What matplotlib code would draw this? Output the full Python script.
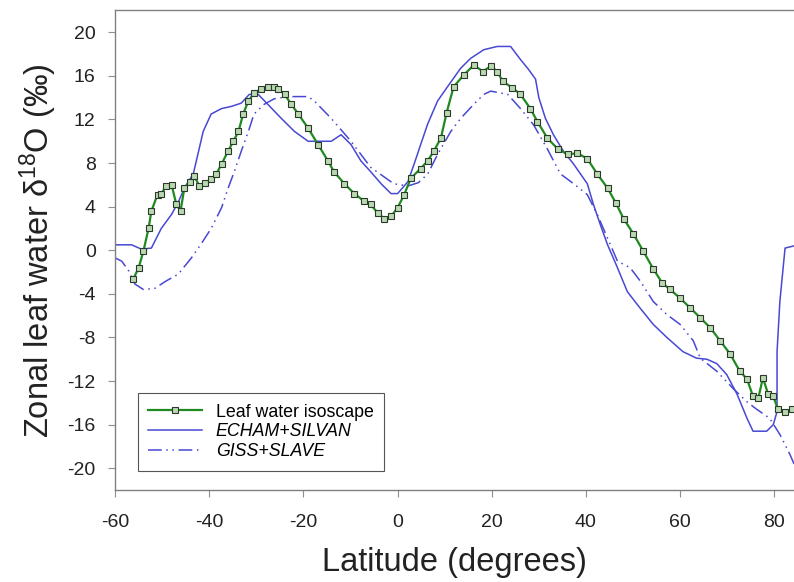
import matplotlib
matplotlib.use("Agg")
from matplotlib import pyplot as plt

plt.rcParams['font.family'] = ['Liberation Sans', 'DejaVu Sans']
plt.rcParams['mathtext.fontset'] = 'custom'
plt.rcParams['mathtext.rm'] = 'Liberation Sans'
plt.rcParams['axes.unicode_minus'] = False

# leaf water isoscape (green, square markers)
leaf_lat = [-56.1, -55.0, -54.0, -52.9, -52.3, -51.0, -50.2, -49.1, -48.0, -47.0,
            -46.1, -45.3, -44.2, -43.2, -42.1, -41.0, -39.6, -38.5, -37.4, -36.0,
            -34.9, -33.8, -32.8, -31.7, -30.5, -29.0, -27.5, -26.2, -25.3, -24.0,
            -22.6, -21.1, -19.0, -16.9, -14.8, -13.5, -11.3, -9.2, -7.1, -5.7,
            -4.2, -2.8, -1.4, 0.0, 1.4, 2.8, 4.9, 6.4, 7.7, 9.2,
            10.4, 11.9, 14.1, 16.2, 18.1, 19.8, 21.2, 22.3, 24.4, 26.1,
            28.2, 29.7, 31.8, 34.0, 36.1, 38.2, 40.3, 42.4, 44.6, 46.4,
            48.0, 50.1, 52.2, 54.3, 56.2, 57.9, 60.0, 62.2, 64.3, 66.4,
            68.5, 70.6, 72.7, 74.2, 75.5, 76.6, 77.6, 78.7, 79.8, 80.8,
            82.3, 83.8]
leaf_val = [-2.6, -1.6, -0.1, 2.0, 3.6, 5.1, 5.2, 5.9, 6.0, 4.2,
            3.6, 5.7, 6.3, 6.8, 5.9, 6.2, 6.5, 7.0, 7.9, 9.1,
            10.0, 10.9, 12.5, 13.7, 14.4, 14.8, 15.0, 15.0, 14.8, 14.3,
            13.4, 12.5, 11.2, 9.7, 8.2, 7.2, 6.1, 5.2, 4.5, 4.2,
            3.4, 2.9, 3.1, 3.9, 5.1, 6.6, 7.5, 8.2, 9.1, 10.3,
            12.6, 15.0, 16.1, 17.0, 16.4, 16.9, 16.4, 15.5, 14.9, 14.3,
            13.0, 11.8, 10.3, 9.3, 8.8, 8.9, 8.4, 7.0, 5.7, 4.3,
            2.9, 1.5, -0.1, -1.7, -3.0, -3.6, -4.4, -5.3, -6.2, -7.1,
            -8.3, -9.5, -11.1, -11.8, -13.4, -13.6, -11.7, -13.2, -13.4, -14.6,
            -14.8, -14.6]

# ECHAM+SILVAN (solid blue)
echam_lat = [-60.0, -56.5, -54.4, -52.3, -50.2, -48.0, -46.5, -45.3, -43.4, -42.1,
             -41.3, -39.6, -37.4, -35.3, -33.2, -31.5, -29.6, -24.7, -21.9, -19.0,
             -14.1, -12.0, -9.9, -7.8, -5.7, -3.5, -1.4, 0.0, 2.2, 3.5,
             4.9, 6.4, 8.5, 10.6, 13.4, 15.5, 18.3, 21.2, 24.0, 26.1,
             27.8, 29.3, 30.0, 31.4, 33.1, 35.2, 37.4, 40.3, 41.6, 43.1,
             44.6, 46.7, 48.8, 51.5, 54.3, 57.2, 60.6, 63.5, 65.7, 67.8,
             69.9, 72.1, 74.2, 75.5, 78.4, 79.8, 80.6, 80.6, 81.2, 82.3,
             84.2]
echam_val = [0.5, 0.5, 0.1, 0.2, 2.0, 3.3, 4.5, 5.7, 7.0, 9.4,
             10.9, 12.5, 13.0, 13.2, 13.5, 14.3, 14.3, 12.1, 10.9, 10.0,
             10.0, 10.6, 9.7, 8.2, 7.2, 6.1, 5.2, 5.2, 6.3, 7.9,
             9.7, 11.6, 13.7, 15.0, 16.7, 17.6, 18.4, 18.7, 18.7, 17.5,
             16.6, 15.7, 14.0, 12.1, 10.6, 9.1, 7.9, 6.1, 4.2, 2.3,
             0.5, -1.6, -3.8, -5.3, -6.8, -8.0, -9.3, -9.9, -10.0, -10.4,
             -11.4, -13.2, -15.4, -16.6, -16.6, -16.0, -14.8, -9.3, -4.7, 0.2,
             0.4]

# GISS+SLAVE (dash-dot-dot blue)
giss_lat = [-60.0, -58.6, -57.1, -55.8, -54.0, -51.6, -49.1, -46.6, -43.8, -41.7,
            -39.6, -37.4, -36.0, -34.7, -33.2, -31.7, -30.5, -28.3, -26.2, -23.2,
            -19.0, -17.7, -14.1, -9.9, -5.7, -0.8, 2.2, 4.4, 6.4, 8.5,
            11.3, 13.4, 16.2, 18.3, 19.8, 23.4, 26.1, 28.9, 31.8, 34.6,
            37.4, 40.3, 42.4, 44.6, 46.7, 49.4, 51.5, 54.3, 57.2, 60.0,
            62.8, 64.3, 67.8, 71.3, 74.2, 76.3, 79.0, 81.2, 83.3, 84.2]
giss_val = [-0.7, -1.0, -1.9, -3.1, -3.6, -3.5, -2.8, -2.2, -0.7, 0.6,
            2.0, 3.9, 5.7, 7.2, 9.1, 10.9, 12.5, 13.4, 13.9, 14.1,
            14.1, 13.7, 12.1, 10.0, 7.6, 6.1, 5.9, 6.2, 7.0, 8.8,
            10.9, 12.1, 13.4, 14.3, 14.6, 14.3, 13.0, 11.5, 9.3, 7.0,
            6.1, 5.1, 3.3, 1.1, -1.0, -1.6, -2.8, -4.7, -5.9, -6.8,
            -8.3, -9.9, -11.1, -12.7, -13.9, -14.6, -15.4, -16.9, -18.7, -19.6]

blue = '#4848d4'
green = '#1f8a1f'

fig = plt.figure(figsize=(7.94, 5.82), dpi=100)
ax = fig.add_axes([0.145, 0.158, 0.855, 0.824])

ax.plot(echam_lat, echam_val, color=blue, lw=1.1, label='ECHAM+SILVAN')
ax.plot(giss_lat, giss_val, color=blue, lw=1.1, dashes=(9, 3, 1, 3, 1, 3),
        label='GISS+SLAVE')
ax.plot(leaf_lat, leaf_val, color=green, lw=1.6, marker='s', markersize=4.5,
        markerfacecolor='#b9d8b0', markeredgecolor='#2a3a2a', markeredgewidth=0.8,
        label='Leaf water isoscape')

ax.set_xlim(-60, 84.2)
ax.set_ylim(-22, 22)
ax.set_xticks([-60, -40, -20, 0, 20, 40, 60, 80])
ax.set_yticks(range(-20, 21, 4))

for s in ['left', 'bottom', 'top']:
    ax.spines[s].set_color('#808080')
    ax.spines[s].set_linewidth(1.0)
ax.spines['right'].set_visible(False)
ax.tick_params(axis='both', direction='out', length=5, color='#909090',
               labelsize=14, labelcolor='#222222')
ax.tick_params(axis='y', pad=9)
ax.tick_params(axis='x', pad=12)

ax.set_xlabel('Latitude (degrees)', fontsize=23.5, color='#222222', labelpad=12)
ax.set_ylabel('Zonal leaf water $\\mathregular{\\delta^{18}}$O (‰)', fontsize=23.5,
              color='#222222', labelpad=6)

h, l = ax.get_legend_handles_labels()
order = [2, 0, 1]
leg = ax.legend([h[i] for i in order], [l[i] for i in order], loc='lower left',
                bbox_to_anchor=(0.02, 0.022), fontsize=12.8, handlelength=3.0,
                fancybox=False, edgecolor='#555555', framealpha=1,
                borderpad=0.6, labelspacing=0.15, handletextpad=0.8)
leg.get_frame().set_linewidth(0.8)
for t in leg.get_texts()[1:]:
    t.set_style('italic')

fig.savefig('out.png', dpi=100)
